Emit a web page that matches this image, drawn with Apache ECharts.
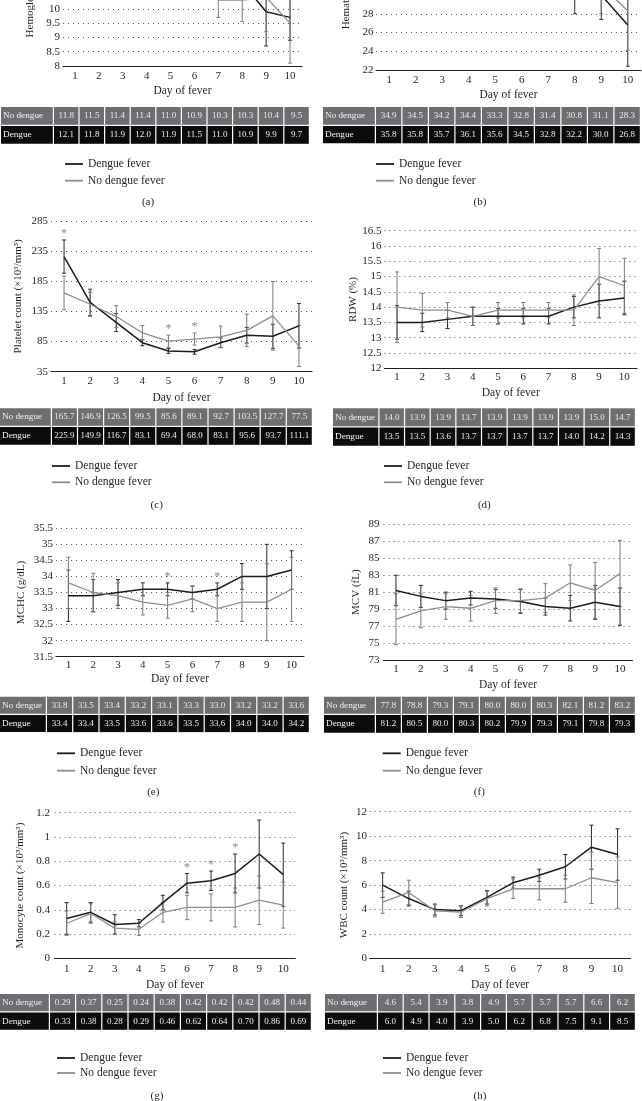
<!DOCTYPE html>
<html><head><meta charset="utf-8">
<script src="https://cdn.jsdelivr.net/npm/echarts@6/dist/echarts.min.js"></script>
<style>html,body{margin:0;padding:0;background:#fff}#c{width:642px;height:1101px}</style>
</head><body><div id="c"></div>
<script>
// ---------- data ----------
const days = ['1','2','3','4','5','6','7','8','9','10'];
const rowLabels = ['No dengue','Dengue'];
const seriesNames = ['Dengue fever','No dengue fever'];

const hgbTicks = [8,8.5,9,9.5,10,10.5,11,11.5,12,12.5,13];
const hgbDengue = [12.1,11.8,11.9,12.0,11.9,11.5,11.0,10.9,9.9,9.7];
const hgbDengueSD = [1.2,1.1,1.1,1.2,1.2,1.1,0.6,0.5,1.2,0.8];
const hgbNoDengue = [11.8,11.5,11.4,11.4,11.0,10.9,10.3,10.3,10.4,9.5];
const hgbNoDengueSD = [1.0,1.0,0.9,0.9,0.6,0.5,0.6,0.75,1.2,1.4];
const hgbStars = [];

const hctTicks = [22,24,26,28,30,32,34,36,38];
const hctDengue = [35.8,35.8,35.7,36.1,35.6,34.5,32.8,32.2,30.0,26.8];
const hctDengueSD = [3.5,3.5,3.5,3.6,3.8,3.6,3.0,4.2,2.6,4.4];
const hctNoDengue = [34.9,34.5,34.2,34.4,33.3,32.8,31.4,30.8,31.1,28.3];
const hctNoDengueSD = [3.0,3.0,3.0,3.0,3.0,3.0,1.8,1.2,3.1,4.2];
const hctStars = [];

const pltTicks = [35,85,135,185,235,285];
const pltDengue = [225.9,149.9,116.7,83.1,69.4,68.0,83.1,95.6,93.7,111.1];
const pltDengueSD = [27.6,22,15,5,4,4,8,13,20,37];
const pltNoDengue = [165.7,146.9,126.5,99.5,85.6,89.1,92.7,103.5,127.7,77.5];
const pltNoDengueSD = [28,20,18,12,10,10,18,27,57,34];
const pltStars = [1,5,6];

const rdwTicks = [12,12.5,13,13.5,14,14.5,15,15.5,16,16.5];
const rdwDengue = [13.5,13.5,13.6,13.7,13.7,13.7,13.7,14.0,14.2,14.3];
const rdwDengueSD = [0.55,0.3,0.3,0.3,0.25,0.25,0.25,0.35,0.55,0.55];
const rdwNoDengue = [14.0,13.9,13.9,13.7,13.9,13.9,13.9,13.9,15.0,14.7];
const rdwNoDengueSD = [1.15,0.55,0.25,0.3,0.25,0.25,0.25,0.5,0.92,0.9];
const rdwStars = [];

const mchcTicks = [31.5,32,32.5,33,33.5,34,34.5,35,35.5];
const mchcDengue = [33.4,33.4,33.5,33.6,33.6,33.5,33.6,34.0,34.0,34.2];
const mchcDengueSD = [0.8,0.5,0.4,0.2,0.2,0.2,0.2,0.4,1.0,0.6];
const mchcNoDengue = [33.8,33.5,33.4,33.2,33.1,33.3,33.0,33.2,33.2,33.6];
const mchcNoDengueSD = [0.8,0.6,0.4,0.4,0.4,0.4,0.4,0.6,1.2,1.0];
const mchcStars = [5,7];

const mcvTicks = [73,75,77,79,81,83,85,87,89];
const mcvDengue = [81.2,80.5,80.0,80.3,80.2,79.9,79.3,79.1,79.8,79.3];
const mcvDengueSD = [1.8,1.3,1.0,0.8,1.1,1.4,1.0,1.5,2.0,2.2];
const mcvNoDengue = [77.8,78.8,79.3,79.1,80.0,80.0,80.3,82.1,81.2,83.2];
const mcvNoDengueSD = [3.0,2.0,1.5,1.5,1.5,1.4,1.7,2.1,3.3,3.9];
const mcvStars = [];

const monoTicks = [0,0.2,0.4,0.6,0.8,1,1.2];
const monoDengue = [0.33,0.38,0.28,0.29,0.46,0.62,0.64,0.70,0.86,0.69];
const monoDengueSD = [0.13,0.08,0.08,0.03,0.06,0.08,0.08,0.16,0.28,0.26];
const monoNoDengue = [0.29,0.37,0.25,0.24,0.38,0.42,0.42,0.42,0.48,0.44];
const monoNoDengueSD = [0.1,0.08,0.05,0.05,0.08,0.1,0.11,0.16,0.2,0.19];
const monoStars = [6,7,8];

const wbcTicks = [0,2,4,6,8,10,12];
const wbcDengue = [6.0,4.9,4.0,3.9,5.0,6.2,6.8,7.5,9.1,8.5];
const wbcDengueSD = [1.0,0.6,0.45,0.4,0.55,0.45,0.5,1.0,1.8,2.1];
const wbcNoDengue = [4.6,5.4,3.9,3.8,4.9,5.7,5.7,5.7,6.6,6.2];
const wbcNoDengueSD = [0.9,1.0,0.5,0.45,0.6,0.8,0.9,1.1,2.1,2.1];
const wbcStars = [];

// ---------- panels (data refs + layout) ----------
const panels = [
 {cap:'(a)', yName:'Hemoglobin (g/dL)', ticks:hgbTicks, d:hgbDengue, dSD:hgbDengueSD, n:hgbNoDengue, nSD:hgbNoDengueSD, stars:hgbStars, dec:1,
  grid:{left:63, top:-77, width:239, height:143}, xm:4.5, xg:19, ym:3, yg:27.5,
  leg:{left:65, top:157, gap:2.7}, capPos:[148,201.7], tb:{x0:1,x1:310,fc:53,y0:107,h1:19,h2:19}},
 {cap:'(b)', yName:'Hematocrit (%)', ticks:hctTicks, d:hctDengue, dSD:hctDengueSD, n:hctNoDengue, nSD:hctNoDengueSD, stars:hctStars, dec:1,
  grid:{left:376, top:-80, width:265, height:150}, xm:4.5, xg:19, ym:2.5, yg:24.5,
  leg:{left:376, top:157, gap:2.7}, capPos:[480,201.7], tb:{x0:323,x1:641,fc:53,y0:107,h1:19,h2:18.5}},
 {cap:'(c)', yName:'Platelet count (×10³/mm³)', ticks:pltTicks, d:pltDengue, dSD:pltDengueSD, n:pltNoDengue, nSD:pltNoDengueSD, stars:pltStars, dec:1,
  grid:{left:51, top:221, width:261, height:150.7}, xm:4, xg:20, ym:3, yg:27.5,
  leg:{left:52, top:459, gap:2.3}, capPos:[156.7,505], tb:{x0:0,x1:313,fc:52,y0:408.3,h1:18.7,h2:19}},
 {cap:'(d)', yName:'RDW (%)', ticks:rdwTicks, d:rdwDengue, dSD:rdwDengueSD, n:rdwNoDengue, nSD:rdwNoDengueSD, stars:rdwStars, dec:1,
  grid:{left:384.4, top:230.7, width:252.6, height:137.6}, xm:3.5, xg:19, ym:3, yg:26,
  leg:{left:384, top:459, gap:2.3}, capPos:[484.3,505], tb:{x0:333,x1:636,fc:46.5,y0:408.3,h1:19.2,h2:19.5}},
 {cap:'(e)', yName:'MCHC (g/dL)', ticks:mchcTicks, d:mchcDengue, dSD:mchcDengueSD, n:mchcNoDengue, nSD:mchcNoDengueSD, stars:mchcStars, dec:1,
  grid:{left:56, top:528.3, width:248, height:128.4}, xm:2.5, xg:16, ym:3, yg:29,
  leg:{left:57, top:746.3, gap:3.4}, capPos:[153.3,791.7], tb:{x0:0,x1:310,fc:47,y0:696.7,h1:18.3,h2:18.3}},
 {cap:'(f)', yName:'MCV (fL)', ticks:mcvTicks, d:mcvDengue, dSD:mcvDengueSD, n:mcvNoDengue, nSD:mcvNoDengueSD, stars:mcvStars, dec:1,
  grid:{left:383.5, top:524.3, width:249, height:135.7}, xm:4, xg:18.5, ym:4, yg:22,
  leg:{left:382.7, top:746.3, gap:3.4}, capPos:[479.3,791.7], tb:{x0:324,x1:636,fc:52,y0:696.7,h1:18.3,h2:19}},
 {cap:'(g)', yName:'Monocyte count (×10³/mm³)', ticks:monoTicks, d:monoDengue, dSD:monoDengueSD, n:monoNoDengue, nSD:monoNoDengueSD, stars:monoStars, dec:2,
  grid:{left:54.6, top:812.7, width:240.7, height:145.8}, xm:5, xg:20, ym:4.5, yg:28.5,
  leg:{left:57, top:1051, gap:1}, capPos:[157,1096], tb:{x0:0,x1:312,fc:50,y0:994,h1:18.5,h2:18.5}},
 {cap:'(h)', yName:'WBC count (×10³/mm³)', ticks:wbcTicks, d:wbcDengue, dSD:wbcDengueSD, n:wbcNoDengue, nSD:wbcNoDengueSD, stars:wbcStars, dec:1,
  grid:{left:369.6, top:811.7, width:261, height:146.8}, xm:5, xg:20, ym:2.5, yg:20,
  leg:{left:383, top:1051, gap:1}, capPos:[480,1096], tb:{x0:325,x1:636,fc:53,y0:994,h1:18.5,h2:18.5}}
];

// ---------- styles ----------
const FONT = '"Liberation Serif", "Times New Roman", serif';
const INK = '#231f20';
const DENGUE = '#1e1b1c';
const NODENGUE = '#8e8e8e';
const STAR = '#8a8a8a';

const grids=[], xAxes=[], yAxes=[], series=[], legends=[], titles=[], gfx=[];

function errBar(gi, vals, sds, color) {
  return {
    type:'custom', xAxisIndex:gi, yAxisIndex:gi, silent:true, z:2,
    data: vals.map((v,i)=>[i, v - sds[i], v + sds[i]]),
    encode:{x:0, y:[1,2]},
    renderItem(params, api){
      const x = api.value(0);
      const lo = api.coord([x, api.value(1)]);
      const hi = api.coord([x, api.value(2)]);
      const w = 2, st = {stroke:color, lineWidth:1};
      return {type:'group', children:[
        {type:'line', shape:{x1:lo[0],y1:lo[1],x2:hi[0],y2:hi[1]}, style:st},
        {type:'line', shape:{x1:lo[0]-w,y1:lo[1],x2:lo[0]+w,y2:lo[1]}, style:st},
        {type:'line', shape:{x1:hi[0]-w,y1:hi[1],x2:hi[0]+w,y2:hi[1]}, style:st}
      ]};
    }
  };
}

function starSeries(gi, p) {
  return {
    type:'custom', xAxisIndex:gi, yAxisIndex:gi, silent:true, z:4,
    data: p.stars.map(day => { const i = day - 1; return [i, Math.max(p.d[i]+p.dSD[i], p.n[i]+p.nSD[i])]; }),
    encode:{x:0, y:1},
    renderItem(params, api){
      const pt = api.coord([api.value(0), api.value(1)]);
      return {type:'text', x:pt[0], y:pt[1]-6, style:{text:'*', fill:STAR, fontSize:12, fontFamily:FONT, align:'center', verticalAlign:'middle'}};
    }
  };
}

function table(p) {
  const t = p.tb;
  const colW = (t.x1 - t.x0 - t.fc) / days.length;
  const rows = [
    {label:rowLabels[0], vals:p.n, fill:'#6d6e71', y:t.y0, h:t.h1},
    {label:rowLabels[1], vals:p.d, fill:'#0b0b0b', y:t.y0 + t.h1, h:t.h2}
  ];
  rows.forEach(r => {
    gfx.push({type:'rect', silent:true, shape:{x:t.x0, y:r.y, width:t.fc-1.2, height:r.h-1.2}, style:{fill:r.fill}});
    gfx.push({type:'text', silent:true, x:t.x0+2, y:r.y+(r.h-1.2)/2, style:{text:r.label, fill:'#f2f2f2', fontSize:9.2, fontFamily:FONT, align:'left', verticalAlign:'middle'}});
    r.vals.forEach((v,i) => {
      const cx = t.x0 + t.fc + i*colW;
      gfx.push({type:'rect', silent:true, shape:{x:cx, y:r.y, width:colW-1.2, height:r.h-1.2}, style:{fill:r.fill}});
      gfx.push({type:'text', silent:true, x:cx+(colW-1.2)/2, y:r.y+(r.h-1.2)/2, style:{text:v.toFixed(p.dec), fill:'#eeeeee', fontSize:9, fontFamily:FONT, align:'center', verticalAlign:'middle'}});
    });
  });
}

panels.forEach((p, gi) => {
  grids.push(Object.assign({containLabel:false, outerBoundsMode:'none'}, p.grid));
  xAxes.push({
    type:'category', gridIndex:gi, data:days, boundaryGap:true,
    name:'Day of fever', nameLocation:'middle', nameGap:p.xg, nameMoveOverlap:false,
    nameTextStyle:{fontFamily:FONT, fontSize:11.5, color:INK},
    axisLine:{show:true, lineStyle:{color:INK, width:1.2}}, axisTick:{show:false},
    axisLabel:{margin:p.xm, fontFamily:FONT, fontSize:11, color:INK, interval:0},
    splitLine:{show:false}
  });
  const tk = p.ticks;
  yAxes.push({
    type:'value', gridIndex:gi, min:tk[0], max:tk[tk.length-1], interval:+(tk[1]-tk[0]).toFixed(4),
    name:p.yName, nameLocation:'middle', nameGap:p.yg, nameMoveOverlap:false,
    nameTextStyle:{fontFamily:FONT, fontSize:11, color:INK},
    axisLine:{show:false}, axisTick:{show:false},
    axisLabel:{margin:p.ym, fontFamily:FONT, fontSize:11, color:INK, showMinLabel:true, showMaxLabel:true},
    splitLine:{show:true, lineStyle:{type:[1,4], color:'#555', width:1}}
  });
  series.push({type:'line', name:seriesNames[0], xAxisIndex:gi, yAxisIndex:gi, data:p.d, symbol:'none', color:DENGUE, lineStyle:{color:DENGUE, width:1.5}, z:3, silent:true});
  series.push({type:'line', name:seriesNames[1], xAxisIndex:gi, yAxisIndex:gi, data:p.n, symbol:'none', color:NODENGUE, lineStyle:{color:NODENGUE, width:1.3}, z:3, silent:true});
  series.push(errBar(gi, p.d, p.dSD, '#2a2a2a'));
  series.push(errBar(gi, p.n, p.nSD, '#7a7a7a'));
  if (p.stars.length) series.push(starSeries(gi, p));
  legends.push({
    data:seriesNames, orient:'vertical', left:p.leg.left, top:p.leg.top, padding:0,
    icon:'rect', itemWidth:18, itemHeight:1.8, itemGap:p.leg.gap, selectedMode:false,
    textStyle:{fontFamily:FONT, fontSize:11.5, color:INK, lineHeight:14}
  });
  titles.push({text:p.cap, left:p.capPos[0], top:p.capPos[1]-7, textAlign:'center', padding:0,
    textStyle:{fontFamily:FONT, fontSize:11, fontWeight:'normal', color:INK, lineHeight:14}});
  table(p);
});

const chart = echarts.init(document.getElementById('c'), null, {renderer:'canvas'});
chart.setOption({
  animation:false,
  backgroundColor:'#fff',
  title:titles, legend:legends, grid:grids, xAxis:xAxes, yAxis:yAxes, series:series,
  graphic:{elements:gfx}
});
</script></body></html>
